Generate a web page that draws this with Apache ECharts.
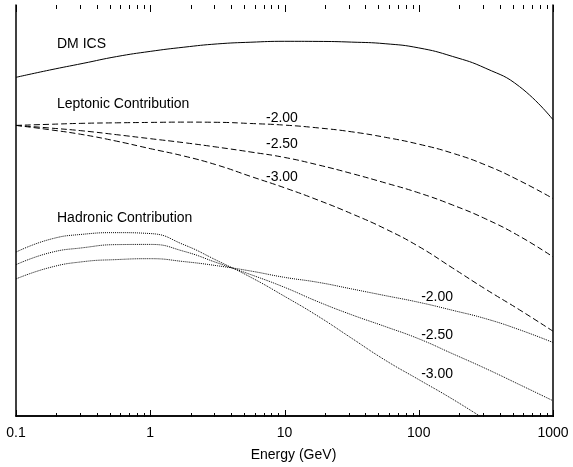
<!DOCTYPE html>
<html><head><meta charset="utf-8">
<script src="https://cdn.jsdelivr.net/npm/echarts@6/dist/echarts.min.js"></script>
<style>html,body{margin:0;padding:0;background:#fff}#c{width:573px;height:467px}</style>
</head><body><div id="c"></div>
<script>
// x tick labels (decades) and minor ticks
const majorTicks = [0.1, 1, 10, 100, 1000];
const minorTicks = [0.2,0.3,0.4,0.5,0.6,0.7,0.8,0.9,2,3,4,5,6,7,8,9,20,30,40,50,60,70,80,90,200,300,400,500,600,700,800,900];

// energies (GeV) at which curves were read, quarter-decade steps
const energy = [0.1,0.178,0.316,0.562,1,1.78,3.16,5.62,10,17.8,31.6,56.2,100,178,316,562,1000];

// DM ICS (solid)
const dmICS = [339.5,346.8,353.5,360.3,365.5,369.7,373,374.7,375.6,375.5,374.8,373.2,369,360.5,348.5,330.3,297];

// Leptonic contribution (dashed), spectral index -2.00, -2.50, -3.00
const lep200 = [291.3,292.4,293.4,293.9,294.3,294.6,294.4,293.2,291.6,288.8,284.9,279.4,272.5,263.5,251.5,236,218];
const lep250 = [291.3,288.7,285.8,282,278,274,269.5,264.6,259.2,251.7,243.1,233.7,223.7,211.6,197.5,180.3,159.5];
const lep300 = [291.3,287,282,275.5,268,260.6,251.5,240.1,228.8,216.4,202.8,187.7,169.9,148.5,127,106.5,85];

// Hadronic contribution (dotted)
const had200 = [137.4,148.8,154.7,156.8,157.7,154.8,150.6,145.3,139,134,127.4,120.7,114,106,97.5,86.5,73.7];
const had250 = [151.7,163.6,168.7,171.8,172,165.1,153.5,141.7,129,114.5,101.5,89.7,77.4,62.5,47.5,31.5,15.3];
const had300 = [164.3,177,182.2,183.8,182.9,171.7,155.7,139,120,100,78,56,36.5,17,-4,null,null];

// curve labels
const curveLabels = ['-2.00','-2.50','-3.00'];
const lepLabelE = 9.57, lepLabelY = [299,273,239];
const hadLabelE = 137, hadLabelY = [119,81,42];

const FONT = 'Liberation Sans, Arial, sans-serif';
const GRID = {left:16, right:20, top:5, bottom:50};
const zip = (xs, ys) => xs.map((x,i)=>[x, ys[i]]).filter(p=>p[1]!==null);

function line(name, data, type){
  return {name, type:'line', data, symbol:'none', smooth:0.5,
    lineStyle:{color:'#000', width:1, type}, silent:true, z:3};
}

const texts = [
  {type:'text', left:57, top:37, style:{text:'DM ICS', fill:'#000', font:'14px '+FONT}},
  {type:'text', left:57, top:97.5, style:{text:'Leptonic Contribution', fill:'#000', font:'14px '+FONT}},
  {type:'text', left:57, top:211, style:{text:'Hadronic Contribution', fill:'#000', font:'14px '+FONT}}
];

const chart = echarts.init(document.getElementById('c'), null, {renderer:'canvas'});
try {
chart.setOption({
  animation:false,
  grid:GRID,
  xAxis: [
    {type:'log', logBase:10, min:0.1, max:1000, position:'bottom',
     axisLine:{show:true, lineStyle:{color:'#000', width:1.5}},
     axisTick:{show:false}, splitLine:{show:false},
     axisLabel:{show:true, color:'#000', fontSize:14, fontFamily:FONT, margin:10,
       formatter:v=>String(+(+v).toPrecision(6))},
     name:'Energy (GeV)', nameLocation:'middle', nameGap:32,
     nameTextStyle:{color:'#000', fontSize:14, fontFamily:FONT, padding:[0,0,0,18]}},
    {type:'log', logBase:10, min:0.1, max:1000, position:'top',
     axisLine:{show:true, lineStyle:{color:'#000', width:1.5}},
     axisTick:{show:false}, splitLine:{show:false}, axisLabel:{show:false}}
  ],
  yAxis:[
    {type:'value', min:0, max:412, position:'left', axisLine:{show:true, lineStyle:{color:'#000', width:1.5}},
     axisTick:{show:false}, axisLabel:{show:false}, splitLine:{show:false}},
    {type:'value', min:0, max:412, position:'right', axisLine:{show:true, lineStyle:{color:'#000', width:1.5}},
     axisTick:{show:false}, axisLabel:{show:false}, splitLine:{show:false}}
  ],
  graphic: texts,
  series:[
    line('DM ICS', zip(energy, dmICS), 'solid'),
    line('lep -2.00', zip(energy, lep200), [6,3]),
    line('lep -2.50', zip(energy, lep250), [6,3]),
    line('lep -3.00', zip(energy, lep300), [6,3]),
    line('had -2.00', zip(energy, had200), [1,1]),
    line('had -2.50', zip(energy, had250), [1,1]),
    line('had -3.00', zip(energy, had300), [1,1])
  ]
});
} catch(e) {}

const extra = [];
try {
  const px = v => chart.convertToPixel({xAxisIndex:0}, v);
  const py = v => chart.convertToPixel({yAxisIndex:0}, v);
  const yBottom = chart.getHeight() - GRID.bottom;
  const yTop = GRID.top;
  const addTicks = (vals, len) => vals.forEach(v=>{
    const x = Math.round(px(v));
    extra.push({type:'rect', silent:true, z:100,
      shape:{x:x, y:yBottom-len, width:1, height:len}, style:{fill:'#000'}});
    extra.push({type:'rect', silent:true, z:100,
      shape:{x:x, y:yTop, width:1, height:len}, style:{fill:'#000'}});
  });
  addTicks(majorTicks, 7);
  addTicks(minorTicks, 4);
  const addLabels = (e, ys) => ys.forEach((y,i)=>{
    extra.push({type:'text', silent:true, z:10, x:px(e), y:py(y),
      style:{text:curveLabels[i], fill:'#000', font:'14px '+FONT, align:'center', verticalAlign:'middle'}});
  });
  addLabels(lepLabelE, lepLabelY);
  addLabels(hadLabelE, hadLabelY);
} catch(e) {}
chart.setOption({graphic: texts.concat(extra)});
</script></body></html>
